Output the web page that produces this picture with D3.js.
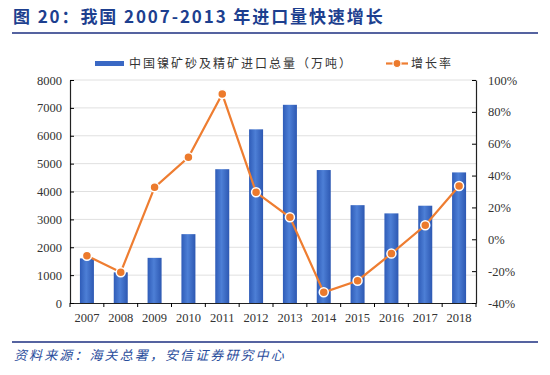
<!DOCTYPE html>
<html>
<head>
<meta charset="utf-8">
<script src="https://d3js.org/d3.v7.min.js"></script>
<style>
  body { margin: 0; background: #fff; }
  svg text { font-family: "Liberation Serif", "DejaVu Serif", serif; }
</style>
</head>
<body>
<div id="chart"></div>
<script>
// Data
const years = ["2007", "2008", "2009", "2010", "2011", "2012", "2013", "2014", "2015", "2016", "2017", "2018"]
const imports = [1600, 1100, 1620, 2470, 4800, 6230, 7110, 4770, 3510, 3215, 3490, 4685]
const growth = [-10.3, -20.7, 32.6, 51.5, 91.2, 29.5, 13.8, -33.3, -26, -9, 8.8, 33.5]
const leftTicks = [0, 1000, 2000, 3000, 4000, 5000, 6000, 7000, 8000]
const rightTicks = [-40, -20, 0, 20, 40, 60, 80, 100]

const w = 550, h = 375
const plotLeft = 70, plotRight = 476, plotTop = 80, plotBottom = 303

const svg = d3.select("#chart").append("svg")
  .attr("width", w).attr("height", h)

// gradient for bars
const defs = svg.append("defs")
const grad = defs.append("linearGradient").attr("id", "barGrad")
  .attr("x1", "0%").attr("x2", "100%").attr("y1", "0%").attr("y2", "0%")
grad.append("stop").attr("offset", "0%").attr("stop-color", "#2f5cb8")
grad.append("stop").attr("offset", "45%").attr("stop-color", "#4d7fd6")
grad.append("stop").attr("offset", "100%").attr("stop-color", "#2d58b2")

// Title
svg.append("text")
  .attr("x", 13).attr("y", 23)
  .attr("font-size", 17).attr("font-weight", "bold")
  .attr("letter-spacing", 1.9)
  .attr("fill", "#1d3f8f")
  .style("font-family", "'Noto Sans CJK SC', sans-serif")
  .text("图 20：我国 2007-2013 年进口量快速增长")
svg.append("line").attr("x1", 12).attr("x2", 538).attr("y1", 33).attr("y2", 33)
  .attr("stroke", "#1c2f80").attr("stroke-width", 1.5)

// Scales
const x = d3.scaleBand().domain(years).range([plotLeft, plotRight])
const yL = d3.scaleLinear().domain([0, 8000]).range([plotBottom, plotTop])
const yR = d3.scaleLinear().domain([-40, 100]).range([plotBottom, plotTop])

// Grid
svg.append("g").selectAll("line").data(leftTicks.slice(1)).enter().append("line")
  .attr("x1", plotLeft).attr("x2", plotRight)
  .attr("y1", d => yL(d)).attr("y2", d => yL(d))
  .attr("stroke", "#e0e0e0").attr("stroke-width", 1)

// Bars
const bw = 14
svg.append("g").selectAll("rect").data(imports).enter().append("rect")
  .attr("x", (d, i) => x(years[i]) + x.bandwidth() / 2 - bw / 2)
  .attr("y", d => yL(d))
  .attr("width", bw)
  .attr("height", d => plotBottom - yL(d))
  .attr("fill", "url(#barGrad)")

// Axes
const xAxis = d3.axisBottom(x).tickSize(4).tickSizeOuter(0)
const gx = svg.append("g").attr("transform", `translate(0,${plotBottom})`).call(xAxis)
gx.selectAll(".tick line").attr("transform", `translate(${x.bandwidth() / 2},0)`)
gx.append("line").attr("x1", plotLeft).attr("x2", plotLeft).attr("y1", 0).attr("y2", 4).attr("stroke", "#000")
gx.selectAll("text").attr("font-size", 12.5).attr("fill", "#333").attr("dy", "0.95em")
  .style("font-family", "'Liberation Serif', serif")

const gl = svg.append("g").attr("transform", `translate(${plotLeft},0)`)
  .call(d3.axisRight(yL).tickValues(leftTicks).tickSize(4).tickSizeOuter(0).tickFormat(d3.format("d")))
gl.selectAll("text").attr("font-size", 12.5).attr("fill", "#333")
  .attr("x", -8).attr("text-anchor", "end")
  .style("font-family", "'Liberation Serif', serif")

const gr = svg.append("g").attr("transform", `translate(${plotRight},0)`)
  .call(d3.axisLeft(yR).tickValues(rightTicks).tickSize(4).tickSizeOuter(0).tickFormat(d => d + "%"))
gr.selectAll("text").attr("font-size", 12.5).attr("fill", "#333")
  .attr("text-anchor", "start").attr("x", 12)
  .style("font-family", "'Liberation Serif', serif")
svg.selectAll(".domain").attr("stroke", "#222").attr("stroke-width", 1.2)

// Line
const line = d3.line()
  .x((d, i) => x(years[i]) + x.bandwidth() / 2)
  .y(d => yR(d))
svg.append("path").datum(growth)
  .attr("d", line).attr("fill", "none")
  .attr("stroke", "#ee7d31").attr("stroke-width", 2.2)
svg.append("g").selectAll("circle").data(growth).enter().append("circle")
  .attr("cx", (d, i) => x(years[i]) + x.bandwidth() / 2)
  .attr("cy", d => yR(d))
  .attr("r", 4.5)
  .attr("fill", "#ec7a2c").attr("stroke", "#fff").attr("stroke-width", 1.5)

// Legend
svg.append("rect").attr("x", 95).attr("y", 61).attr("width", 29).attr("height", 5)
  .attr("fill", "#3a68c4")
svg.append("text").attr("x", 129).attr("y", 68)
  .attr("font-size", 12).attr("letter-spacing", 2).attr("fill", "#333")
  .style("font-family", "'Noto Sans CJK SC', sans-serif")
  .text("中国镍矿砂及精矿进口总量（万吨）")
svg.append("line").attr("x1", 386).attr("x2", 408).attr("y1", 63.5).attr("y2", 63.5)
  .attr("stroke", "#ee7d31").attr("stroke-width", 2.2)
svg.append("circle").attr("cx", 397).attr("cy", 63.5).attr("r", 4)
  .attr("fill", "#ec7a2c").attr("stroke", "#fff").attr("stroke-width", 1.2)
svg.append("text").attr("x", 411).attr("y", 68)
  .attr("font-size", 12).attr("letter-spacing", 2).attr("fill", "#333")
  .style("font-family", "'Noto Sans CJK SC', sans-serif")
  .text("增长率")

// Footer
svg.append("line").attr("x1", 12).attr("x2", 538).attr("y1", 342).attr("y2", 342)
  .attr("stroke", "#1c2f80").attr("stroke-width", 1.5)
svg.append("text").attr("x", 14).attr("y", 360)
  .attr("font-size", 13).attr("letter-spacing", 2.1).attr("fill", "#2a4d9c").attr("font-style", "italic")
  .style("font-family", "'Noto Sans CJK SC', sans-serif")
  .text("资料来源：海关总署，安信证券研究中心")
</script>
</body>
</html>
